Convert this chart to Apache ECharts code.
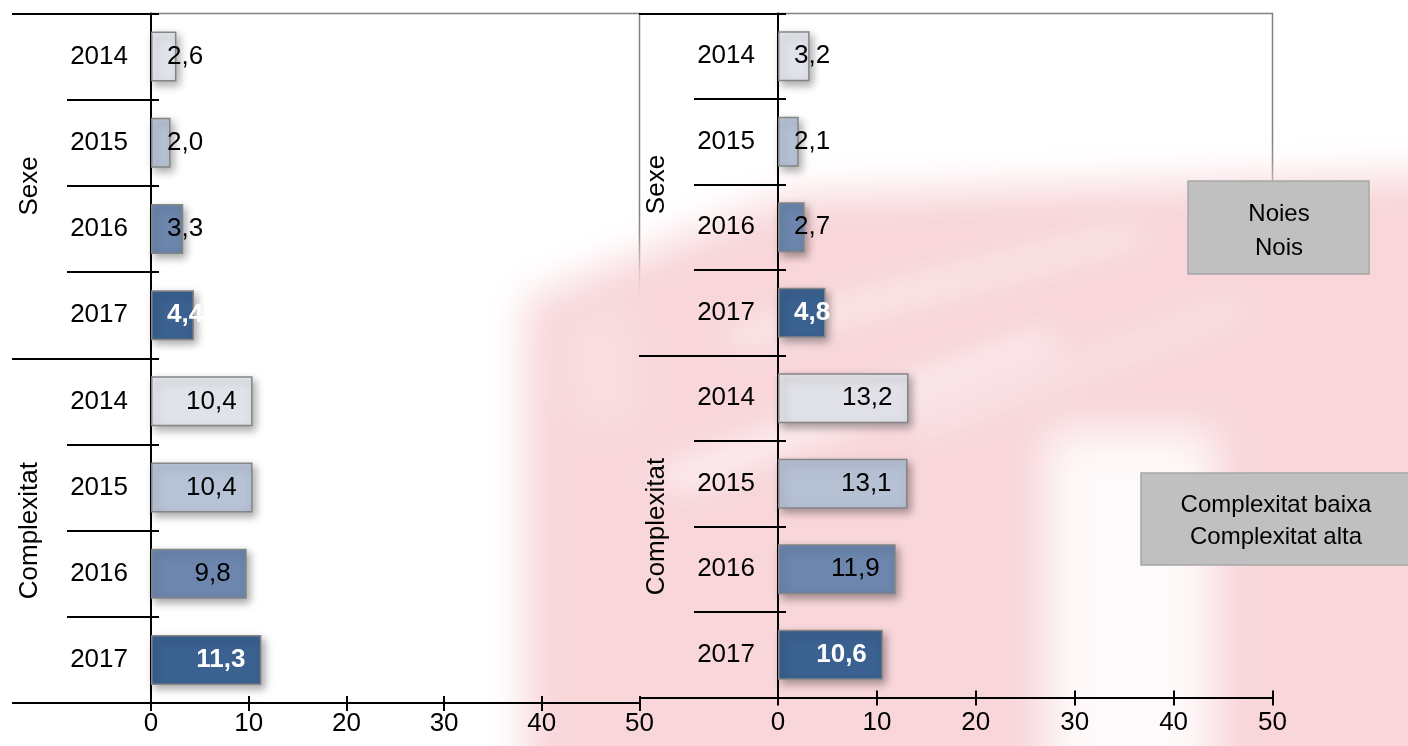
<!DOCTYPE html>
<html>
<head>
<meta charset="utf-8">
<script src="https://cdn.jsdelivr.net/npm/echarts@6/dist/echarts.min.js"></script>
<style>
  html, body { margin: 0; padding: 0; background: #fff; }
  #main { width: 1408px; height: 746px; }
</style>
</head>
<body>
<div id="main"></div>
<script>
// data
var years = ['2014', '2015', '2016', '2017'];
var groups = ['Sexe', 'Complexitat'];
var xTicks = [0, 10, 20, 30, 40, 50];
var leftSexe = [2.6, 2.0, 3.3, 4.4];
var leftComplexitat = [10.4, 10.4, 9.8, 11.3];
var rightSexe = [3.2, 2.1, 2.7, 4.8];
var rightComplexitat = [13.2, 13.1, 11.9, 10.6];
var legendSexe = ['Noies', 'Nois'];
var legendComplexitat = ['Complexitat baixa', 'Complexitat alta'];

var FONT = "'Liberation Sans', Arial, sans-serif";
var barColors = ['rgba(230,233,240,0.9)', 'rgba(182,195,215,0.95)', '#6c86ad', '#3a6190'];

// categories: one per (group, year), shown as the year
var cats = [];
groups.forEach(function (g) {
  years.forEach(function (y) { cats.push(g + '|' + y); });
});

function fmt(v) { return v.toFixed(1).replace('.', ','); }

function barData(sexe, compl) {
  return sexe.concat(compl).map(function (v, i) {
    var yi = i % years.length;
    var dark = yi === years.length - 1;
    return {
      value: v,
      itemStyle: { color: barColors[yi] },
      label: {
        position: v < 6 ? 'insideLeft' : 'insideRight',
        color: dark ? '#fff' : '#000',
        fontWeight: dark ? 'bold' : 'normal'
      }
    };
  });
}

function xAxes(g, margin) {
  return [{
    type: 'value', gridIndex: g, position: 'bottom',
    min: xTicks[0], max: xTicks[xTicks.length - 1], interval: xTicks[1] - xTicks[0],
    axisLine: { show: true, onZero: false, lineStyle: { color: '#000', width: 2 } },
    axisTick: { show: true, length: 8, lineStyle: { color: '#000', width: 2 } },
    axisLabel: { fontSize: 26, color: '#000', fontFamily: FONT, margin: margin },
    splitLine: { show: false }
  }, {
    type: 'value', gridIndex: g, position: 'bottom',
    min: xTicks[0], max: xTicks[xTicks.length - 1], interval: xTicks[1] - xTicks[0],
    axisLine: { show: false, onZero: false },
    axisTick: { show: true, inside: true, length: 7, lineStyle: { color: '#000', width: 2 } },
    axisLabel: { show: false },
    splitLine: { show: false }
  }];
}

function yAxes(g) {
  return [{
    // year labels + black axis line
    type: 'category', gridIndex: g, position: 'left', inverse: true, data: cats,
    axisLine: { show: true, onZero: false, lineStyle: { color: '#000', width: 2 } },
    axisTick: { show: false },
    axisLabel: {
      fontSize: 26, color: '#000', fontFamily: FONT, margin: 23,
      formatter: function (v) { return v.split('|')[1]; }
    }
  }, {
    // year separators
    type: 'category', gridIndex: g, position: 'left', inverse: true, data: cats, offset: -8,
    axisLine: { show: false, onZero: false },
    axisTick: { show: true, length: 92, lineStyle: { color: '#000', width: 2 } },
    axisLabel: { show: false }
  }, {
    // group separators and labels
    type: 'category', gridIndex: g, position: 'left', inverse: true, data: groups, offset: -8,
    axisLine: { show: false, onZero: false },
    axisTick: { show: true, length: 147, lineStyle: { color: '#000', width: 2 } },
    axisLabel: { fontSize: 26, color: '#000', fontFamily: FONT, rotate: 90, margin: 116 }
  }];
}

function barSeries(g, sexe, compl) {
  return {
    type: 'bar', xAxisIndex: g * 2, yAxisIndex: g * 3,
    barWidth: 50,
    data: barData(sexe, compl),
    itemStyle: {
      borderColor: '#858585', borderWidth: 1.5,
      shadowColor: 'rgba(0,0,0,0.35)', shadowBlur: 8, shadowOffsetX: 3, shadowOffsetY: 4
    },
    label: {
      show: true, distance: 16, fontSize: 26, fontFamily: FONT,
      formatter: function (p) { return fmt(p.value); }
    }
  };
}

function legendBox(x, y, w, h, lines, cx, cy, lh) {
  return {
    type: 'group', z: 50,
    children: [{
      type: 'rect', shape: { x: x, y: y, width: w, height: h },
      style: { fill: '#c0c0c0', stroke: '#a6a6a6', lineWidth: 1.5 }
    }, {
      type: 'text', x: cx, y: cy,
      style: {
        text: lines.join('\n'), fontSize: 24, fontFamily: FONT, fill: '#000',
        align: 'center', verticalAlign: 'middle', lineHeight: lh
      }
    }]
  };
}

// soft (blurred) background watermark: only the shadow of an off-screen shape is visible
var SHIFT = 4000;
function soft(points, color, blur) {
  return {
    type: 'polygon',
    shape: { points: points.map(function (p) { return [p[0] - SHIFT, p[1]]; }) },
    style: { fill: color, shadowColor: color, shadowBlur: blur, shadowOffsetX: SHIFT }
  };
}

var pink = '#f8d6da';
var background = {
  type: 'group', z: -100, silent: true,
  children: [
    soft([[525, 300], [790, 195], [1408, 175], [1460, 175], [1460, 800], [525, 800]], pink, 40),
    soft([[650, 470], [1040, 330], [1070, 345], [680, 495]], 'rgba(255,255,255,0.75)', 30),
    soft([[720, 330], [1130, 225], [1150, 240], [740, 350]], 'rgba(255,255,255,0.7)', 30),
    soft([[900, 420], [1230, 300], [1250, 315], [920, 440]], 'rgba(255,255,255,0.6)', 30),
    soft([[1045, 430], [1215, 430], [1215, 800], [1045, 800]], 'rgba(255,255,255,0.92)', 40),
    soft([[560, 320], [630, 300], [640, 420], [575, 430]], 'rgba(255,255,255,0.5)', 40)
  ]
};

var chart = echarts.init(document.getElementById('main'));
chart.setOption({
  animation: false,
  backgroundColor: '#fff',
  grid: [
    { left: 151, top: 13.5, width: 488.5, height: 689.5, show: true,
      borderColor: '#808080', borderWidth: 1.5, backgroundColor: 'transparent' },
    { left: 778, top: 13.5, width: 494.5, height: 684, show: true,
      borderColor: '#808080', borderWidth: 1.5, backgroundColor: 'transparent' }
  ],
  xAxis: xAxes(0, 8).concat(xAxes(1, 12)),
  yAxis: yAxes(0).concat(yAxes(1)),
  series: [
    barSeries(0, leftSexe, leftComplexitat),
    barSeries(1, rightSexe, rightComplexitat)
  ],
  graphic: [
    background,
    legendBox(1188, 181, 181, 93, legendSexe, 1279, 231, 34),
    legendBox(1141, 473, 280, 92, legendComplexitat, 1276, 521, 32)
  ]
});
</script>
</body>
</html>
